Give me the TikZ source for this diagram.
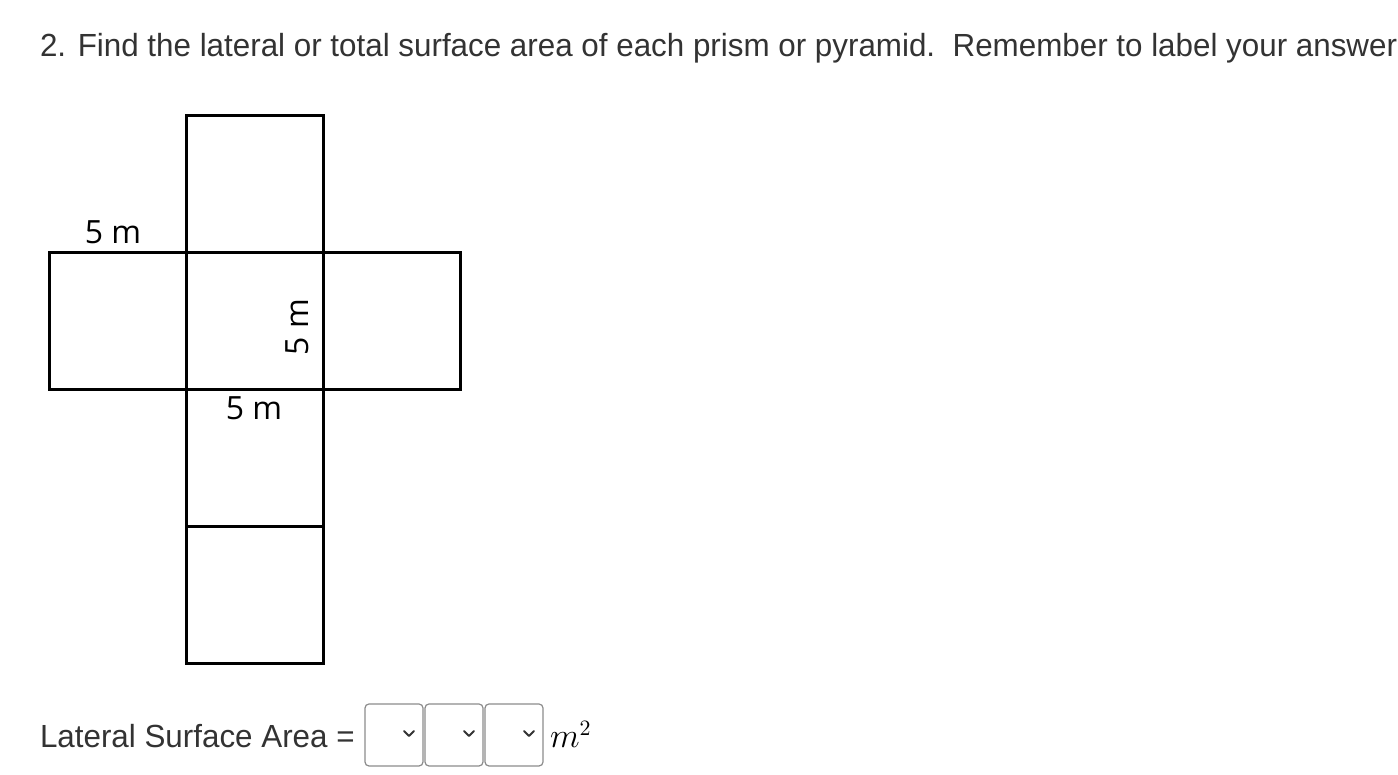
\documentclass[tikz,border=0pt]{standalone}
\usepackage{fontspec}
\setmainfont{Liberation Sans}
\newfontfamily\netfont{Open Sans}
\usepackage{tikz}
\usetikzlibrary{calc}
\usepackage{amsmath}

\begin{document}
\begin{tikzpicture}[x=0.5pt,y=0.5pt]
\definecolor{fillColor}{RGB}{255,255,255}
\path[use as bounding box,fill=fillColor] (0,0) rectangle (1398,775);
\begin{scope}
\path[clip] (0,0) rectangle (1398,775);
\definecolor{drawColor}{RGB}{51,51,51}

\node[text=drawColor,anchor=base west,inner sep=0pt, outer sep=0pt, xscale=0.98, font=\fontsize{16}{19}\selectfont] (title) at (40,718) {2. Find the lateral or total surface area of each prism or pyramid.\ \ Remember to label your answer};
\end{scope}
\begin{scope}
\definecolor{drawColor}{RGB}{0,0,0}

% net of the cube
\foreach \x/\y in {186/522, 49/385, 186/385, 323/385, 186/248, 186/111}
  \path[draw=drawColor,line width=1.5pt,line join=miter] (\x,\y) rectangle ++(137,137);

\node[text=drawColor,anchor=base,inner sep=0pt, outer sep=0pt, font=\netfont\fontsize{16}{19}\selectfont] (topleft) at (113,531) {5 m};

\node[text=drawColor,rotate= 90.00,anchor=base,inner sep=0pt, outer sep=0pt, font=\netfont\fontsize{16}{19}\selectfont] (side) at (308,448) {5 m};

\node[text=drawColor,anchor=base,inner sep=0pt, outer sep=0pt, font=\netfont\fontsize{16}{19}\selectfont] (bottom) at (254,355) {5 m};
\end{scope}
\begin{scope}
\definecolor{drawColor}{RGB}{51,51,51}
\definecolor{boxColor}{RGB}{140,140,140}

\node[text=drawColor,anchor=base west,inner sep=0pt, outer sep=0pt, xscale=0.98, font=\fontsize{16}{19}\selectfont] (answer) at (40,27) {Lateral Surface Area =};

% drop-down boxes
\foreach \x in {365,425,485} {
  \path[draw=boxColor,line width=0.6pt,rounded corners=2pt] (\x,9) rectangle ++(58,62);
  \path[draw=drawColor,line width=0.9pt,line join=round,line cap=round] ($(\x,41)+(39,3)$) -- ++(5,-5) -- ++(5,5);
}

\node[text=black,anchor=base west,inner sep=0pt, outer sep=0pt, font=\fontsize{16}{19}\selectfont] (unit) at (550,27) {$m^2$};
\end{scope}
\end{tikzpicture}
\end{document}
